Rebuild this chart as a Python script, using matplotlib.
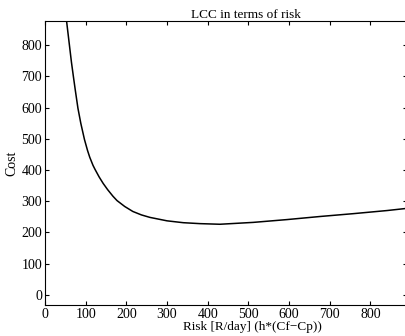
import numpy as np
import matplotlib
matplotlib.use('Agg')
import matplotlib.pyplot as plt

# values
risk = [53, 60, 65, 70, 74.5, 81, 88, 97, 104.5, 110, 118, 123, 133, 143, 154,
        167, 177, 196, 216, 237, 258, 300, 340, 381, 430, 512, 595, 677, 758,
        841, 890]
cost = [878, 801, 746, 698, 656, 598, 550, 498, 463, 441, 415, 402, 378, 357, 337,
        316, 302, 283, 267, 256, 248, 237, 231, 228, 226, 232, 241, 251, 260,
        270, 277]

xticks = [0, 100, 200, 300, 400, 500, 600, 700, 800]
yticks = [0, 100, 200, 300, 400, 500, 600, 700, 800]

plt.rcParams['font.family'] = ['Liberation Serif', 'DejaVu Serif']
plt.rcParams['font.size'] = 10

fig = plt.figure(figsize=(4.05, 3.36), dpi=100)
ax = fig.add_axes([45 / 405, 31 / 336, 362 / 405, 284 / 336])

ax.plot(risk, cost, color='black', lw=1.1)

ax.set_xlim(0, 890)
ax.set_ylim(-33, 878)
ax.set_xticks(xticks)
ax.set_yticks(yticks)
ax.tick_params(direction='in', top=True, right=True, length=3, pad=2,
               labelsize=10)

ax.set_xlabel('Risk [R/day] (h*(Cf\u2212Cp))', fontsize=9.5)
ax.xaxis.set_label_coords(0.572, -0.055)
ax.set_ylabel('Cost', labelpad=2)
ax.set_title('LCC in terms of risk', x=0.555, pad=2, fontsize=9.5)

fig.savefig('out.png', dpi=100)
